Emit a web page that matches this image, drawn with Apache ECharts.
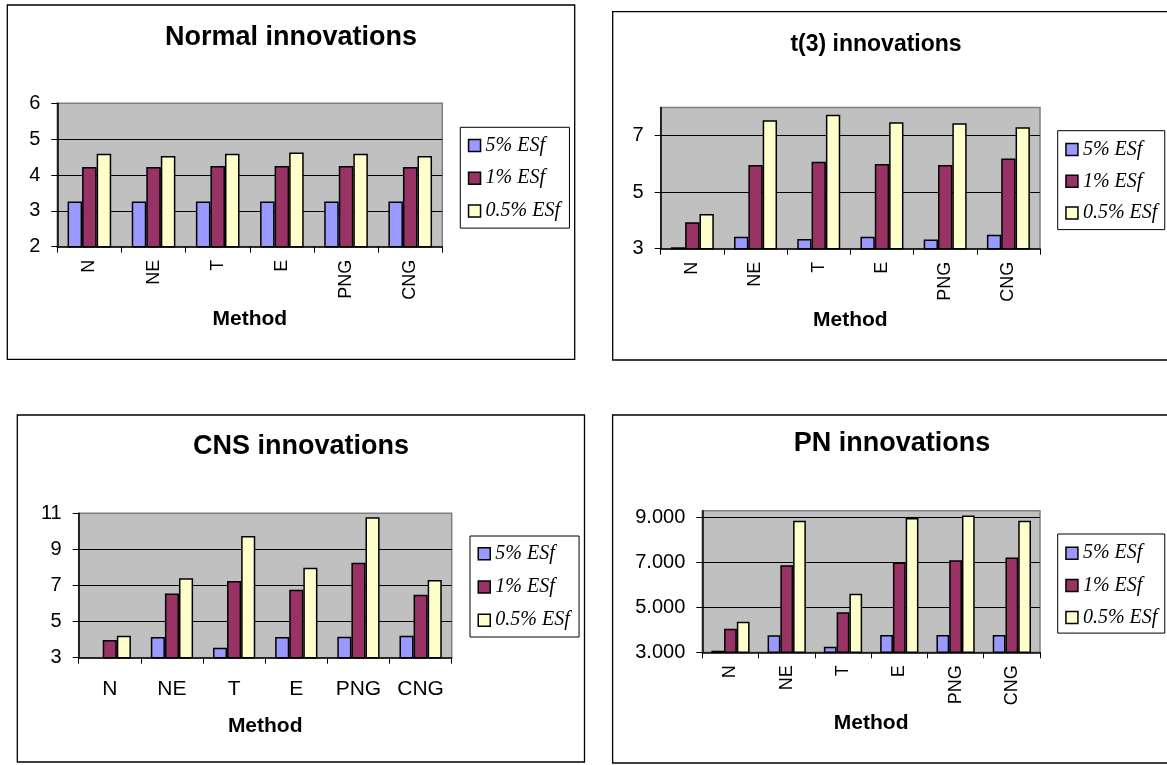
<!DOCTYPE html>
<html>
<head>
<meta charset="utf-8">
<script src="https://cdn.jsdelivr.net/npm/echarts@6/dist/echarts.min.js"></script>
<style>
  html, body { margin: 0; padding: 0; background: #fff; }
  #chart { width: 1167px; height: 765px; }
</style>
</head>
<body>
<div id="chart"></div>
<script>
// Categories and series shared by all four panels
const methods = ['N', 'NE', 'T', 'E', 'PNG', 'CNG'];
const seriesNames = ['5% ESf', '1% ESf', '0.5% ESf'];

// Normal innovations
const normal5  = [3.26, 3.26, 3.26, 3.26, 3.26, 3.26];
const normal1  = [4.22, 4.22, 4.25, 4.25, 4.25, 4.22];
const normal05 = [4.59, 4.53, 4.59, 4.63, 4.59, 4.53];

// t(3) innovations
const t3_5  = [3.05, 3.42, 3.34, 3.42, 3.33, 3.49];
const t3_1  = [3.94, 5.96, 6.08, 6.00, 5.96, 6.19];
const t3_05 = [4.23, 7.55, 7.74, 7.48, 7.44, 7.30];

// CNS innovations
const cns5  = [3.00, 4.15, 3.55, 4.15, 4.16, 4.22];
const cns1  = [3.98, 6.55, 7.25, 6.77, 8.26, 6.49];
const cns05 = [4.22, 7.40, 9.74, 7.99, 10.78, 7.30];

// PN innovations
const pn5  = [3.07, 3.76, 3.25, 3.77, 3.77, 3.77];
const pn1  = [4.05, 6.87, 4.78, 7.00, 7.09, 7.22];
const pn05 = [4.36, 8.85, 5.60, 8.98, 9.09, 8.85];

// Value-axis tick values per panel
const normalTicks = [2, 3, 4, 5, 6];
const t3Ticks     = [3, 5, 7];
const cnsTicks    = [3, 5, 7, 9, 11];
const pnTicks     = [3, 5, 7, 9];

const colors = ['#9999FF', '#993366', '#FFFFCC'];
const SANS = 'Liberation Sans, Arial, sans-serif';
const SERIF = 'Liberation Serif, Times New Roman, serif';

const panels = [
  { title: 'Normal innovations', titleSize: 27, box: [7.3, 5, 567.4, 354.3], titleX: 291, titleY: 38,
    grid: { left: 57.3, top: 103.3, width: 385, height: 143.4 },
    ticks: normalTicks, max: 6, fmt: v => String(v), rotate: 90, xFont: 18, xMargin: 13, nameGap: 73,
    legend: { left: 460.3, top: 127.3, pad: [8.2, 5.9, 7.2, 7.5], gap: 12.7 },
    data: [normal5, normal1, normal05] },
  { title: 't(3) innovations', titleSize: 23, box: [612.7, 11.7, 560, 348.3], titleX: 876, titleY: 45,
    grid: { left: 660.7, top: 107.5, width: 379.3, height: 141.2 },
    ticks: t3Ticks, max: 8, fmt: v => String(v), rotate: 90, xFont: 18, xMargin: 13, nameGap: 72,
    legend: { left: 1057.7, top: 130.7, pad: [8.8, 3.8, 6.5, 7.5], gap: 11.8 },
    data: [t3_5, t3_1, t3_05] },
  { title: 'CNS innovations', titleSize: 27, box: [17.3, 415, 567.2, 347], titleX: 301, titleY: 447,
    grid: { left: 78.7, top: 513.3, width: 373, height: 144.4 },
    ticks: cnsTicks, max: 11, fmt: v => String(v), rotate: 0, xFont: 21, xMargin: 21, nameGap: 69,
    legend: { left: 470, top: 536, pad: [7.8, 5.8, 6.8, 7.5], gap: 13.2 },
    data: [cns5, cns1, cns05] },
  { title: 'PN innovations', titleSize: 27, box: [612.6, 415, 560, 348], titleX: 892, titleY: 444,
    grid: { left: 702.3, top: 510.7, width: 337.7, height: 141.6 },
    ticks: pnTicks, max: 9.3, fmt: v => v.toFixed(3), rotate: 90, xFont: 18, xMargin: 13, nameGap: 70.7,
    legend: { left: 1057.7, top: 534, pad: [9.2, 3.8, 5.5, 7.5], gap: 12.2 },
    data: [pn5, pn1, pn05] }
];

const option = {
  animation: false,
  backgroundColor: '#fff',
  title: [], grid: [], xAxis: [], yAxis: [], legend: [], series: [],
  graphic: []
};

panels.forEach((p, i) => {
  const lastTick = p.ticks[p.ticks.length - 1];
  option.graphic.push({
    type: 'rect', z: -10, silent: true,
    shape: { x: p.box[0], y: p.box[1], width: p.box[2], height: p.box[3] },
    style: { fill: '#fff', stroke: '#000', lineWidth: 1.3 }
  });
  option.title.push({
    text: p.title, left: p.titleX, top: p.titleY, padding: 0,
    textAlign: 'center', textVerticalAlign: 'middle',
    textStyle: { fontFamily: SANS, fontWeight: 'bold', fontSize: p.titleSize, color: '#000' }
  });
  option.grid.push(Object.assign({
    show: true, backgroundColor: '#C0C0C0', borderColor: '#808080', borderWidth: 1.5,
    containLabel: false
  }, p.grid));
  option.xAxis.push({
    type: 'category', gridIndex: i, data: methods,
    name: 'Method', nameLocation: 'middle', nameGap: p.nameGap,
    nameTextStyle: { fontFamily: SANS, fontWeight: 'bold', fontSize: 21, color: '#000', verticalAlign: 'middle' },
    axisLine: { show: true, lineStyle: { color: '#000', width: 1.5 } },
    axisTick: { show: true, length: 6, lineStyle: { color: '#000', width: 1 } },
    axisLabel: { rotate: p.rotate, fontFamily: SANS, fontSize: p.xFont, color: '#000', margin: p.xMargin },
    splitLine: { show: false }
  });
  option.yAxis.push({
    type: 'value', gridIndex: i, min: p.ticks[0], max: p.max,
    interval: p.ticks[1] - p.ticks[0],
    axisLine: { show: true, lineStyle: { color: '#000', width: 1.5 } },
    axisTick: { show: true, length: 6, customValues: p.ticks, lineStyle: { color: '#000', width: 1 } },
    axisLabel: {
      customValues: p.ticks, showMinLabel: true, showMaxLabel: true,
      fontFamily: SANS, fontSize: 20, color: '#000', margin: 17,
      formatter: v => p.fmt(v)
    },
    splitLine: {
      show: true, showMinLine: false, showMaxLine: lastTick < p.max,
      lineStyle: { color: '#000', width: 1 }
    }
  });
  option.legend.push({
    data: seriesNames, orient: 'vertical', left: p.legend.left, top: p.legend.top,
    padding: p.legend.pad, itemGap: p.legend.gap, itemWidth: 12, itemHeight: 12,
    icon: 'rect', backgroundColor: '#fff', borderColor: '#000', borderWidth: 1,
    selectedMode: false,
    itemStyle: { borderColor: '#000', borderWidth: 1.5 },
    textStyle: { fontFamily: SERIF, fontStyle: 'italic', fontSize: 20, lineHeight: 19, color: '#000', width: 78 }
  });
  p.data.forEach((values, k) => {
    option.series.push({
      type: 'bar', name: seriesNames[k], xAxisIndex: i, yAxisIndex: i,
      data: values, barGap: '0%', barCategoryGap: '32%',
      itemStyle: { color: colors[k], borderColor: '#000', borderWidth: 1.5 },
      emphasis: { disabled: true }
    });
  });
});

const chart = echarts.init(document.getElementById('chart'), null, { renderer: 'canvas' });
chart.setOption(option);
</script>
</body>
</html>
